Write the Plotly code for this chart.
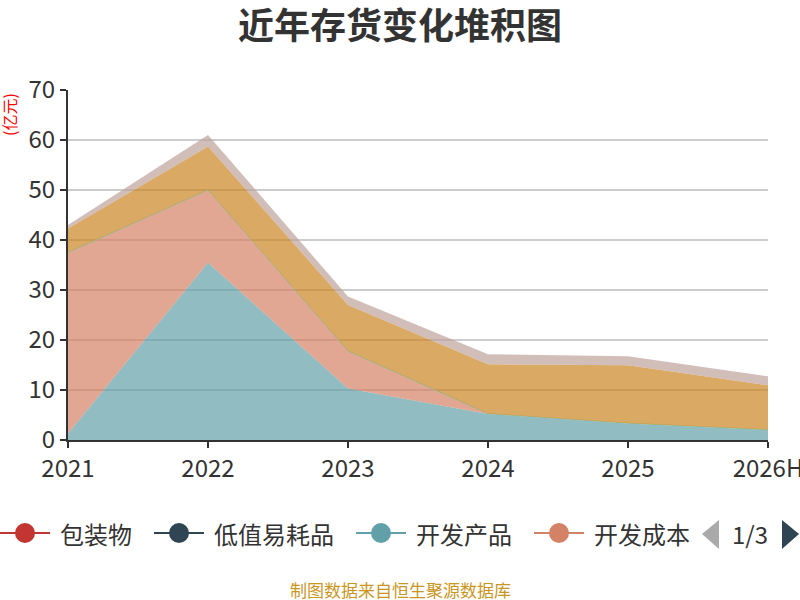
import plotly.graph_objects as go

# data (亿元)
years = ["2021", "2022", "2023", "2024", "2025", "2026H"]
names = ["包装物", "低值易耗品", "开发产品", "开发成本", "原材料", "在产品", "合同履约成本", "库存商品"]
colors = ["#c23531", "#2f4554", "#61a0a8", "#d48265", "#91c7ae", "#749f83", "#ca8622", "#bda29a"]

baozhuang = [0, 0, 0, 0, 0, 0]
dizhi = [0, 0, 0, 0, 0, 0]
kaifa_chanpin = [1.3, 35.5, 10.3, 5.2, 3.3, 2.0]
kaifa_chengben = [36.2, 14.5, 7.5, 0.05, 0.05, 0.05]
yuancailiao = [0, 0, 0, 0, 0, 0]
zaichanpin = [0, 0, 0, 0, 0, 0]
hetong = [4.8, 8.7, 9.2, 9.9, 11.6, 8.9]
kucun = [0.7, 2.3, 1.7, 2.0, 1.8, 1.8]

series = [baozhuang, dizhi, kaifa_chanpin, kaifa_chengben, yuancailiao, zaichanpin, hetong, kucun]

FONT = "Noto Sans CJK SC"

# plot area in pixels
L, R, T, B = 68, 768, 90, 440


def px_x(p):
    return (p - L) / (R - L)


def px_y(p):
    return (B - p) / (B - T)


def rgba(hexc, a):
    h = hexc.lstrip("#")
    return "rgba(%d,%d,%d,%s)" % (int(h[0:2], 16), int(h[2:4], 16), int(h[4:6], 16), a)


fig = go.Figure()
for name, vals, col in zip(names, series, colors):
    lw = 1 if col == "#91c7ae" else 0
    fig.add_trace(go.Scatter(
        x=years, y=vals, name=name, mode="lines", stackgroup="one",
        line=dict(color=col, width=lw), fillcolor=rgba(col, 0.7),
        showlegend=False, hoverinfo="x+y+name",
    ))

shapes = []
annotations = []

# hand-drawn legend, page 1 of 3
ly = 533
x0 = 0
for name, col in zip(names[:4], colors[:4]):
    shapes.append(dict(type="line", xref="paper", yref="paper",
                       x0=px_x(x0), x1=px_x(x0 + 50), y0=px_y(ly), y1=px_y(ly),
                       line=dict(color=col, width=2)))
    shapes.append(dict(type="circle", xref="paper", yref="paper",
                       xsizemode="pixel", ysizemode="pixel",
                       xanchor=px_x(x0 + 25), yanchor=px_y(ly),
                       x0=-10, x1=10, y0=-10, y1=10,
                       fillcolor=col, line=dict(width=0)))
    annotations.append(dict(text=name, xref="paper", yref="paper",
                            x=px_x(x0 + 58), y=px_y(ly), xanchor="left", yanchor="middle",
                            showarrow=False, font=dict(family=FONT, size=24, color="#333")))
    x0 += 60 + len(name) * 24 + 22

# pager arrows
shapes.append(dict(type="path", xref="paper", yref="paper",
                   path="M %f,%f L %f,%f L %f,%f Z" % (px_x(702), px_y(534), px_x(719), px_y(520), px_x(719), px_y(549)),
                   fillcolor="#aaaaaa", line=dict(width=0)))
shapes.append(dict(type="path", xref="paper", yref="paper",
                   path="M %f,%f L %f,%f L %f,%f Z" % (px_x(782), px_y(520), px_x(782), px_y(549), px_x(799), px_y(534)),
                   fillcolor="#2f4554", line=dict(width=0)))
annotations.append(dict(text="1/3", xref="paper", yref="paper", x=px_x(750), y=px_y(533),
                        xanchor="center", yanchor="middle", showarrow=False,
                        font=dict(family=FONT, size=24, color="#333")))

# unit label
annotations.append(dict(text="(亿元)", xref="paper", yref="paper", x=px_x(9), y=px_y(115),
                        xanchor="center", yanchor="middle", textangle=-90, showarrow=False,
                        font=dict(family=FONT, size=16, color="red")))

# source line
annotations.append(dict(text="制图数据来自恒生聚源数据库", xref="paper", yref="paper",
                        x=px_x(400), y=px_y(589), xanchor="center", yanchor="middle",
                        showarrow=False, font=dict(family=FONT, size=17, color="#c9961f")))

fig.update_layout(
    width=800, height=600, autosize=False,
    margin=dict(l=L, r=800 - R, t=T, b=600 - B),
    paper_bgcolor="white", plot_bgcolor="white",
    title=dict(text="<b>近年存货变化堆积图</b>", x=0.5, xanchor="center",
               y=1 - 26 / 600, yanchor="middle",
               font=dict(family=FONT, size=36, color="#333")),
    font=dict(family=FONT, color="#333"),
    shapes=shapes, annotations=annotations,
    showlegend=False,
)
fig.update_xaxes(type="category", range=[0, len(years) - 1], showgrid=False, automargin=False,
                 showline=True, linecolor="#333", linewidth=2,
                 ticks="outside", ticklen=6, tickcolor="#333", tickwidth=2,
                 tickfont=dict(family=FONT, size=24, color="#333"))
fig.update_yaxes(range=[0, 70], dtick=10, showgrid=True, gridcolor="#cccccc", gridwidth=1.5,
                 automargin=False, zeroline=False, showline=True, linecolor="#333", linewidth=2,
                 ticks="outside", ticklen=6, tickcolor="#333", tickwidth=2,
                 tickfont=dict(family=FONT, size=24, color="#333"))

# drop the default page margin so the 800x600 figure fills the window
fig.write_html("out.html",
               config={"responsive": False, "displayModeBar": False},
               post_script="document.body.style.margin='0';document.body.style.overflow='hidden';")
